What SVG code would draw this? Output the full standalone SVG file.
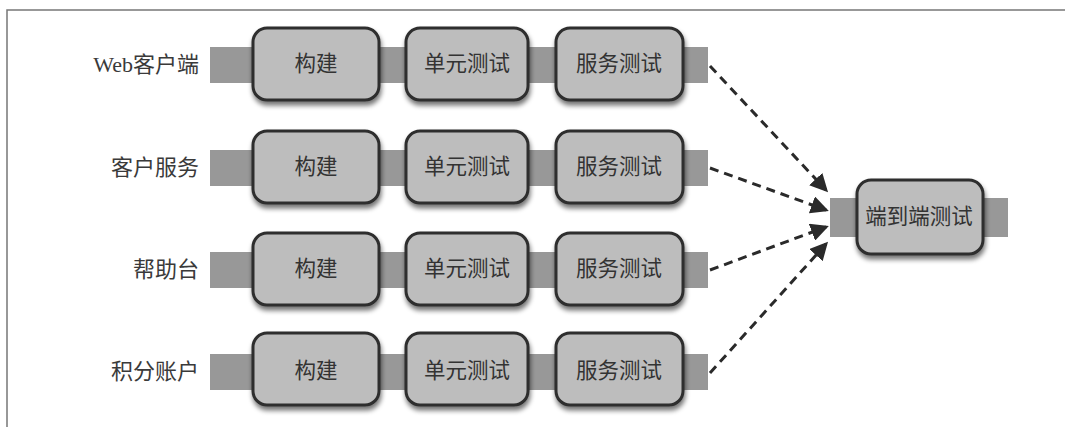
<svg xmlns="http://www.w3.org/2000/svg" width="1065" height="427" viewBox="0 0 1065 427">
<defs>
<style>
.band{fill:#989898}
.box{fill:#bdbdbd;stroke:#2e2e2e;stroke-width:3}
.bt{font-family:"Liberation Serif","Noto Sans CJK SC",serif;font-size:21.5px;fill:#333;text-anchor:middle;dominant-baseline:central}
.lb{font-family:"Liberation Serif","Noto Sans CJK SC",serif;font-size:22px;fill:#3a3a3a;text-anchor:end;dominant-baseline:central}
.conn{stroke:#2a2a2a;stroke-width:3;stroke-dasharray:9 6;fill:none}
</style>
<filter id="sh" x="-20%" y="-20%" width="140%" height="150%">
<feGaussianBlur in="SourceAlpha" stdDeviation="2.5"/>
<feOffset dx="1" dy="4" result="b"/>
<feComponentTransfer><feFuncA type="linear" slope="0.55"/></feComponentTransfer>
<feMerge><feMergeNode/><feMergeNode in="SourceGraphic"/></feMerge>
</filter>
<marker id="ah" markerWidth="6" markerHeight="6" refX="5" refY="3" orient="auto" markerUnits="strokeWidth">
<path d="M0,0 L6,3 L0,6 z" fill="#2a2a2a"/>
</marker>
</defs>
<rect x="0" y="0" width="1065" height="427" fill="#fff"/>
<path d="M7,427 V10 H1065" fill="none" stroke="#777" stroke-width="1.5"/>

<g id="row1">
<rect class="band" x="210" y="47" width="498" height="36"/>
<text class="lb" x="199" y="64">Web客户端</text>
<g id="r1-build"><rect class="box" filter="url(#sh)" x="253" y="28" width="126" height="72" rx="14"/><text class="bt" x="316" y="64">构建</text></g>
<g id="r1-unit"><rect class="box" filter="url(#sh)" x="406" y="28" width="122" height="72" rx="14"/><text class="bt" x="467" y="64">单元测试</text></g>
<g id="r1-svc"><rect class="box" filter="url(#sh)" x="556" y="28" width="127" height="72" rx="14"/><text class="bt" x="619" y="64">服务测试</text></g>
</g>

<g id="row2">
<rect class="band" x="210" y="150" width="498" height="36"/>
<text class="lb" x="199" y="167">客户服务</text>
<g id="r2-build"><rect class="box" filter="url(#sh)" x="253" y="131" width="126" height="72" rx="14"/><text class="bt" x="316" y="167">构建</text></g>
<g id="r2-unit"><rect class="box" filter="url(#sh)" x="406" y="131" width="122" height="72" rx="14"/><text class="bt" x="467" y="167">单元测试</text></g>
<g id="r2-svc"><rect class="box" filter="url(#sh)" x="556" y="131" width="127" height="72" rx="14"/><text class="bt" x="619" y="167">服务测试</text></g>
</g>

<g id="row3">
<rect class="band" x="210" y="252" width="498" height="36"/>
<text class="lb" x="199" y="269">帮助台</text>
<g id="r3-build"><rect class="box" filter="url(#sh)" x="253" y="233" width="126" height="72" rx="14"/><text class="bt" x="316" y="269">构建</text></g>
<g id="r3-unit"><rect class="box" filter="url(#sh)" x="406" y="233" width="122" height="72" rx="14"/><text class="bt" x="467" y="269">单元测试</text></g>
<g id="r3-svc"><rect class="box" filter="url(#sh)" x="556" y="233" width="127" height="72" rx="14"/><text class="bt" x="619" y="269">服务测试</text></g>
</g>

<g id="row4">
<rect class="band" x="210" y="354" width="498" height="36"/>
<text class="lb" x="199" y="371">积分账户</text>
<g id="r4-build"><rect class="box" filter="url(#sh)" x="253" y="333" width="126" height="72" rx="14"/><text class="bt" x="316" y="371">构建</text></g>
<g id="r4-unit"><rect class="box" filter="url(#sh)" x="406" y="333" width="122" height="72" rx="14"/><text class="bt" x="467" y="371">单元测试</text></g>
<g id="r4-svc"><rect class="box" filter="url(#sh)" x="556" y="333" width="127" height="72" rx="14"/><text class="bt" x="619" y="371">服务测试</text></g>
</g>

<g id="e2e">
<rect class="band" x="830" y="198" width="178" height="39"/>
<rect class="box" filter="url(#sh)" x="857" y="180" width="126" height="74" rx="14"/>
<text class="bt" x="919" y="217">端到端测试</text>
</g>

<g id="connectors">
<path class="conn" marker-end="url(#ah)" d="M710,66 L826,190"/>
<path class="conn" marker-end="url(#ah)" d="M710,168 L826,210"/>
<path class="conn" marker-end="url(#ah)" d="M710,270 L826,227"/>
<path class="conn" marker-end="url(#ah)" d="M710,373 L826,244"/>
</g>
</svg>
